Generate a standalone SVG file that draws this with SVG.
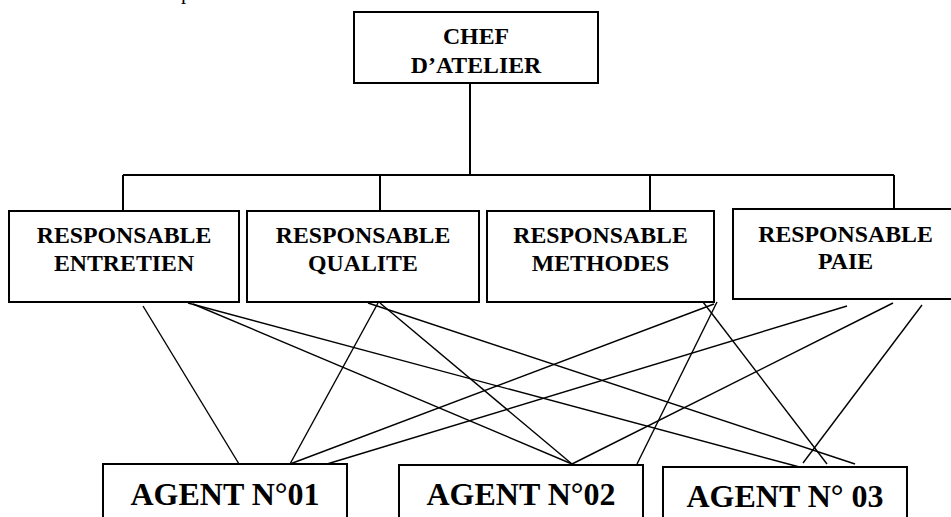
<svg xmlns="http://www.w3.org/2000/svg" width="951" height="517" viewBox="0 0 951 517">
<style>
.box{fill:#fff;stroke:#000;stroke-width:2}
.t{font-family:"Liberation Serif","Times New Roman",serif;font-weight:bold;font-size:23.8px;fill:#000;text-anchor:middle}
.a{font-family:"Liberation Serif","Times New Roman",serif;font-weight:bold;font-size:32px;fill:#000;text-anchor:middle}
.tree{fill:none;stroke:#000;stroke-width:2}
.ln{fill:none;stroke:#000;stroke-width:1.4}
</style>
<rect width="951" height="517" fill="#fff"/>
<text x="181" y="-1.5" font-family="Liberation Serif, serif" font-size="21" fill="#000">p</text>
<g id="connectors">
<path class="tree" d="M470,83 V175 M123,175 H894 M123,175 V211 M380,175 V211 M650,175 V211 M894,175 V209"/>
<line class="ln" x1="143" y1="306" x2="239" y2="464"/>
<line class="ln" x1="188" y1="303" x2="807" y2="469"/>
<line class="ln" x1="193" y1="304" x2="572" y2="464"/>
<line class="ln" x1="378" y1="303" x2="290" y2="464"/>
<line class="ln" x1="380" y1="303" x2="572" y2="464"/>
<line class="ln" x1="368" y1="303" x2="855" y2="464"/>
<line class="ln" x1="714" y1="304" x2="290" y2="464"/>
<line class="ln" x1="717" y1="302" x2="637" y2="464"/>
<line class="ln" x1="703" y1="302" x2="827" y2="464"/>
<line class="ln" x1="847" y1="306" x2="327" y2="464"/>
<line class="ln" x1="893" y1="303" x2="572" y2="464"/>
<line class="ln" x1="922" y1="305" x2="803" y2="463"/>
</g>
<g id="chef">
<rect class="box" x="354" y="12" width="244" height="71"/>
<text class="t" x="476" y="44">CHEF</text>
<text class="t" x="476" y="73">D’ATELIER</text>
</g>
<g id="resp-entretien">
<rect class="box" x="9" y="211" width="230" height="91"/>
<text class="t" x="124" y="243">RESPONSABLE</text>
<text class="t" x="124" y="271">ENTRETIEN</text>
</g>
<g id="resp-qualite">
<rect class="box" x="247" y="211" width="232" height="91"/>
<text class="t" x="363" y="243">RESPONSABLE</text>
<text class="t" x="363" y="271">QUALITE</text>
</g>
<g id="resp-methodes">
<rect class="box" x="487" y="211" width="227" height="91"/>
<text class="t" x="600.5" y="243">RESPONSABLE</text>
<text class="t" x="600.5" y="271">METHODES</text>
</g>
<g id="resp-paie">
<rect class="box" x="733" y="209" width="228" height="90"/>
<text class="t" x="845.5" y="242">RESPONSABLE</text>
<text class="t" x="845.5" y="269">PAIE</text>
</g>
<g id="agent-01">
<rect class="box" x="103" y="464" width="244" height="70"/>
<text class="a" x="225" y="505">AGENT N°01</text>
</g>
<g id="agent-02">
<rect class="box" x="399" y="465" width="244" height="70"/>
<text class="a" x="521" y="505">AGENT N°02</text>
</g>
<g id="agent-03">
<rect class="box" x="663" y="467" width="244" height="70"/>
<text class="a" x="785" y="507">AGENT N° 03</text>
</g>
</svg>
